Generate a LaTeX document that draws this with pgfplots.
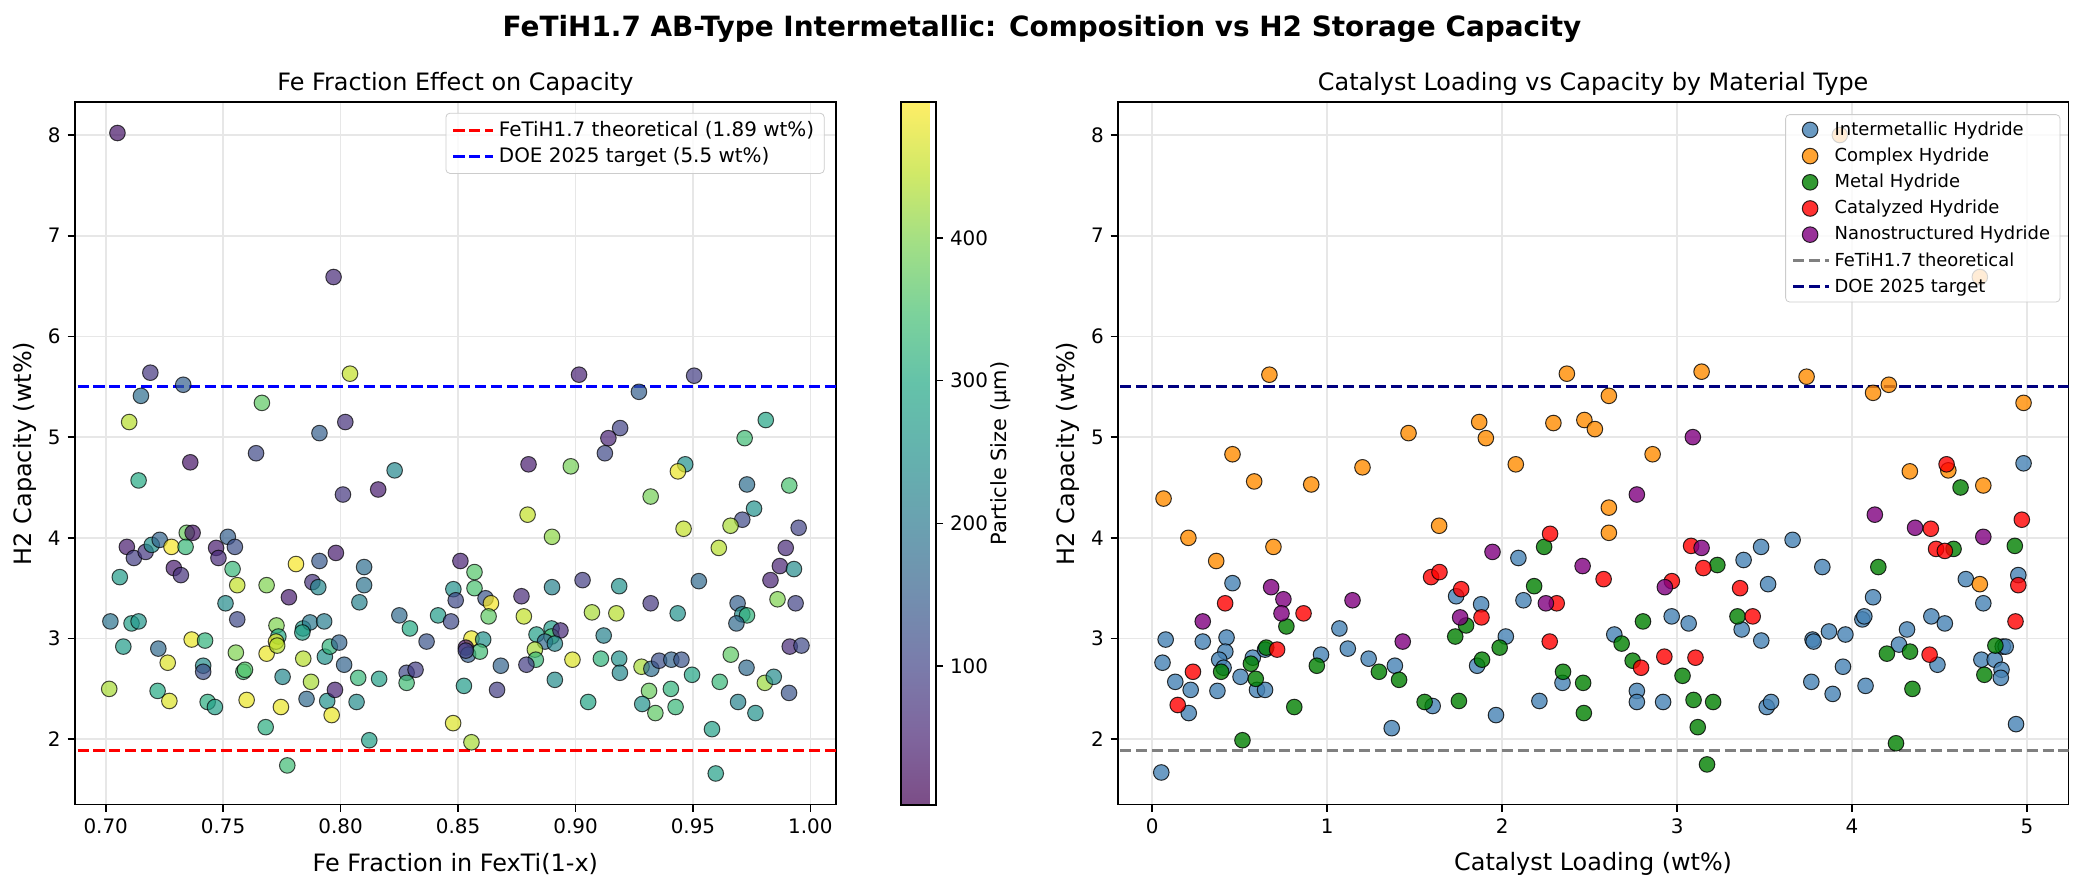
\documentclass[border=0pt]{standalone}
\usepackage{pgfplots}
\pgfplotsset{compat=1.18}
\usepackage{pgfplotstable}
\usepackage{fontspec}
\setmainfont{DejaVu Sans}

\definecolor{steelblue}{RGB}{70,130,180}
\definecolor{darkorange}{RGB}{255,140,0}
\definecolor{mplgreen}{RGB}{0,128,0}
\definecolor{mplpurple}{RGB}{128,0,128}
\definecolor{mplnavy}{RGB}{0,0,128}
\definecolor{gridgray}{RGB}{231,231,231}
\definecolor{legedge}{RGB}{204,204,204}

% viridis as it looks with alpha 0.7 on white (for the colorbar)
\pgfplotsset{
  colormap={viridisfaded}{rgb255=(124,77,135) rgb255=(127,102,158) rgb255=(122,124,171)
    rgb255=(114,143,175) rgb255=(106,161,176) rgb255=(100,178,174) rgb255=(100,194,169)
    rgb255=(124,210,155) rgb255=(162,223,133) rgb255=(209,233,103) rgb255=(254,238,102)},
  colormap={viridisP}{rgb255=(68,1,84) rgb255=(72,36,117) rgb255=(65,68,135)
    rgb255=(53,95,141) rgb255=(42,120,142) rgb255=(33,145,140) rgb255=(34,168,132)
    rgb255=(68,191,112) rgb255=(122,209,81) rgb255=(189,223,38) rgb255=(253,231,37)},
}

\pgfplotsset{
  panel/.style={
    scale only axis, height=351.2bp,
    ymin=1.35, ymax=8.325, ytick={2,3,4,5,6,7,8},
    grid=major, major grid style={gridgray, line width=0.8bp},
    tick align=outside, tick pos=left, major tick length=3.5bp,
    every tick/.append style={black, line width=0.8bp},
    axis line style={line width=0.8bp},
    tick label style={font=\fontsize{10}{12}\selectfont},
    /pgf/number format/assume math mode=true,
    every axis title/.style={at={(0.5,1)}, anchor=base, yshift=5.85bp, font=\fontsize{12}{14}\selectfont},
    label style={font=\fontsize{12}{14}\selectfont},
    xlabel style={at={(axis description cs:0.5,-0.0844)}, anchor=center},
    legend cell align=left,
  },
  dots/.style={only marks, mark=*, mark size=3.9bp,
    mark options={draw=black, line width=0.5bp, fill=#1, fill opacity=0.8, draw opacity=0.8}},
  dline/.style={#1, line width=1.5bp, dash pattern=on 5.55bp off 2.4bp},
  longline/.style={legend image code/.code={\draw[##1] (0bp,0bp) -- (20bp,0bp);}},
  shortline/.style={legend image code/.code={\draw[##1] (0bp,0bp) -- (18bp,0bp);}},
}

% Fe fraction, capacity, particle size
\pgfplotstableread{
x y s
0.705 8.02 30
0.797 6.59 60
0.719 5.64 80
0.733 5.52 150
0.715 5.41 180
0.710 5.15 440
0.7665 5.34 370
0.802 5.15 70
0.791 5.04 150
0.764 4.84 110
0.736 4.75 30
0.714 4.57 300
0.801 4.43 80
0.804 5.63 450
0.7345 4.05 380
0.737 4.05 30
0.709 3.91 40
0.712 3.80 90
0.717 3.86 80
0.7196 3.93 250
0.723 3.98 160
0.728 3.91 490
0.734 3.91 330
0.729 3.70 40
0.732 3.63 70
0.706 3.61 270
0.747 3.90 40
0.748 3.80 60
0.752 4.01 150
0.755 3.91 120
0.754 3.69 330
0.756 3.53 450
0.7685 3.53 400
0.781 3.74 490
0.791 3.77 140
0.798 3.85 40
0.788 3.56 70
0.7905 3.51 230
0.778 3.41 40
0.751 3.35 240
0.756 3.19 110
0.702 3.17 190
0.711 3.15 280
0.714 3.17 260
0.7727 3.13 400
0.784 3.10 270
0.787 3.16 200
0.793 3.17 210
0.808 3.36 220
0.9015 5.62 50
0.927 5.45 150
0.9505 5.61 90
0.919 5.09 100
0.914 4.99 50
0.9125 4.84 110
0.880 4.73 40
0.898 4.71 390
0.8796 4.23 450
0.890 4.01 410
0.823 4.67 230
0.816 4.48 40
0.851 3.77 50
0.857 3.66 360
0.857 3.50 350
0.848 3.49 250
0.849 3.38 110
0.8617 3.40 130
0.864 3.35 490
0.863 3.22 370
0.877 3.42 60
0.878 3.22 450
0.890 3.51 220
0.903 3.58 90
0.9186 3.52 250
0.907 3.26 430
0.9174 3.25 440
0.810 3.71 180
0.810 3.53 190
0.825 3.23 170
0.8415 3.23 270
0.847 3.17 110
0.8295 3.10 300
0.981 5.17 290
0.972 4.99 340
0.9467 4.73 250
0.9436 4.66 480
0.932 4.41 390
0.973 4.53 180
0.976 4.29 250
0.971 4.18 110
0.966 4.12 430
0.946 4.09 450
0.991 4.52 350
0.961 3.90 440
0.9895 3.90 60
0.987 3.72 50
0.993 3.69 240
0.983 3.58 50
0.9525 3.57 170
0.932 3.35 80
0.9435 3.25 250
0.969 3.35 150
0.986 3.39 400
0.9937 3.35 100
0.971 3.24 240
0.973 3.23 320
0.995 4.10 100
0.7075 2.92 270
0.7224 2.90 170
0.7015 2.50 430
0.7264 2.76 470
0.7221 2.48 300
0.7271 2.38 470
0.7366 2.99 480
0.7423 2.98 320
0.7415 2.73 240
0.7415 2.67 120
0.7434 2.37 310
0.7465 2.32 280
0.7554 2.86 400
0.7586 2.67 340
0.7593 2.69 360
0.760 2.39 480
0.7681 2.12 310
0.7773 1.74 340
0.7685 2.85 480
0.7735 3.02 300
0.7725 2.97 480
0.773 2.93 440
0.7753 2.62 230
0.7746 2.32 480
0.7841 2.80 440
0.7837 3.06 280
0.7874 2.57 430
0.7855 2.40 170
0.7933 2.82 250
0.7954 2.92 320
0.7994 2.96 160
0.7943 2.38 250
0.7976 2.49 50
0.7962 2.24 480
0.8015 2.74 160
0.8075 2.61 330
0.8068 2.37 240
0.8122 1.99 280
0.8164 2.60 280
0.8366 2.97 130
0.8281 2.66 110
0.8319 2.69 90
0.8281 2.56 340
0.8479 2.16 470
0.8557 3.00 480
0.8533 2.91 30
0.8543 2.84 150
0.8607 2.99 250
0.8593 2.87 340
0.8533 2.88 100
0.8682 2.73 160
0.8525 2.53 270
0.8666 2.49 90
0.8557 1.97 430
0.8834 3.04 280
0.8898 3.10 270
0.8898 3.02 350
0.8936 3.08 60
0.887 2.97 170
0.8912 2.95 230
0.8827 2.89 430
0.8831 2.79 330
0.8791 2.74 90
0.8912 2.59 240
0.8987 2.79 470
0.912 3.03 220
0.9108 2.80 320
0.9186 2.80 250
0.9189 2.66 230
0.9054 2.37 290
0.9281 2.72 430
0.9323 2.70 180
0.9356 2.78 120
0.9408 2.79 160
0.9451 2.79 130
0.9496 2.64 290
0.9313 2.48 380
0.9406 2.50 320
0.9284 2.35 250
0.934 2.26 370
0.9426 2.32 330
0.9661 2.84 370
0.9614 2.57 330
0.9728 2.71 170
0.9806 2.56 420
0.9844 2.62 240
0.9909 2.46 130
0.9692 2.37 220
0.9766 2.26 250
0.9581 2.10 280
0.9597 1.66 280
0.9912 2.92 60
0.9962 2.93 110
0.9685 3.15 170
}\fedata

% catalyst loading, capacity
\pgfplotstableread{
x y
0.077 2.99
0.059 2.76
0.132 2.57
0.22 2.49
0.209 2.26
0.289 2.97
0.425 3.01
0.418 2.87
0.383 2.79
0.408 2.71
0.373 2.48
0.505 2.62
0.575 2.81
0.645 2.89
0.599 2.49
0.645 2.49
0.052 1.67
1.07 3.10
1.118 2.90
0.965 2.84
1.237 2.80
1.387 2.73
1.369 2.11
1.603 2.33
1.857 2.73
2.021 3.02
1.965 2.24
2.213 2.38
2.345 2.56
2.641 3.04
2.77 2.48
2.77 2.37
2.92 2.37
2.969 3.22
3.066 3.15
3.369 3.09
3.481 2.98
3.512 2.32
3.537 2.37
3.774 2.99
3.78 2.97
3.868 3.07
3.962 3.04
3.948 2.72
3.767 2.57
3.889 2.45
4.059 3.19
4.07 3.22
4.077 2.53
4.314 3.09
4.268 2.94
4.453 3.22
4.53 3.15
4.488 2.74
4.739 2.79
4.815 2.79
4.861 2.92
4.878 2.92
4.854 2.69
4.85 2.61
4.937 2.15
0.459 3.55
1.737 3.42
1.88 3.34
2.093 3.80
2.122 3.38
3.38 3.78
3.48 3.91
3.52 3.54
3.66 3.98
3.83 3.71
4.12 3.41
4.65 3.59
4.95 3.63
4.98 4.74
4.75 3.35
}\intermetallic

\pgfplotstableread{
x y
0.065 4.39
0.207 4.00
0.366 3.77
0.459 4.83
0.583 4.56
0.67 5.62
0.693 3.91
0.909 4.53
1.202 4.70
1.465 5.04
1.64 4.12
1.869 5.15
1.907 4.99
2.078 4.73
2.293 5.14
2.37 5.63
2.47 5.17
2.53 5.08
2.61 5.41
2.61 4.30
2.61 4.05
2.86 4.83
3.14 5.65
3.74 5.60
3.93 8.00
4.12 5.44
4.21 5.52
4.33 4.66
4.55 4.67
4.73 6.59
4.75 4.52
4.73 3.54
4.98 5.34
}\complexh

\pgfplotstableread{
x y
0.767 3.12
0.652 2.91
0.564 2.75
0.394 2.67
0.592 2.60
0.516 1.99
0.812 2.32
0.941 2.73
1.296 2.67
1.411 2.59
1.557 2.37
1.753 2.38
1.732 3.02
1.794 3.13
1.885 2.79
1.986 2.91
2.348 2.67
2.463 2.56
2.467 2.26
2.683 2.95
2.746 2.78
2.805 3.17
3.031 2.63
3.094 2.39
3.206 2.37
3.118 2.12
3.171 1.75
3.345 3.22
4.199 2.85
4.331 2.87
4.345 2.50
4.251 1.96
4.819 2.93
4.756 2.64
2.183 3.52
2.24 3.91
3.23 3.73
4.15 3.71
4.62 4.50
4.93 3.92
4.58 3.89
}\metalh

\pgfplotstableread{
x y
0.233 2.67
0.146 2.34
0.714 2.89
2.272 2.97
2.794 2.71
2.927 2.82
3.105 2.81
4.443 2.84
4.934 3.17
0.417 3.35
0.865 3.25
1.594 3.61
1.642 3.66
1.766 3.49
1.882 3.21
2.274 4.04
2.312 3.35
2.58 3.59
2.97 3.57
3.08 3.92
3.15 3.70
3.36 3.50
3.432 3.22
4.45 4.09
4.48 3.89
4.54 4.73
4.53 3.87
4.95 3.53
4.97 4.18
}\catalyzed

\pgfplotstableread{
x y
0.289 3.17
0.68 3.51
0.75 3.39
0.739 3.25
1.145 3.38
1.432 2.97
1.760 3.21
1.945 3.86
2.25 3.35
2.46 3.72
2.77 4.43
2.93 3.51
3.09 5.00
3.14 3.90
4.13 4.23
4.36 4.10
4.75 4.01
}\nano

\begin{document}
\begin{tikzpicture}
\path[use as bounding box] (0,0) rectangle (1042bp,443.5bp);
\node[anchor=base, font=\fontsize{14}{17}\selectfont\bfseries] at (521bp,425.2bp)
  {FeTiH1.7 AB-Type Intermetallic: Composition vs H2 Storage Capacity};

\begin{axis}[panel,
  at={(37.35bp,41.15bp)}, anchor=south west, width=380.65bp,
  xmin=0.6868, xmax=1.0109,
  xtick={0.70,0.75,0.80,0.85,0.90,0.95,1.00},
  xticklabel style={/pgf/number format/.cd, fixed, fixed zerofill, precision=2},
  title={Fe Fraction Effect on Capacity},
  xlabel={Fe Fraction in FexTi(1-x)},
  ylabel={H2 Capacity (wt\%)},
  ylabel style={at={(axis description cs:-0.0657,0.5)}, anchor=center},
  colormap name=viridisP,
  point meta min=3, point meta max=495,
  colorbar,
  colorbar style={
    at={(parent axis.north east)}, anchor=north west, xshift=24bp,
    width=17.5bp, height=351.2bp, scale only axis,
    colormap name=viridisfaded,
    ytick={100,200,300,400}, ytick pos=right, yticklabel pos=right,
    tick align=outside, major tick length=3.5bp,
    every tick/.append style={black, line width=0.8bp},
    axis line style={line width=0.8bp},
    yticklabel style={font=\fontsize{10}{12}\selectfont},
    /pgf/number format/assume math mode=true,
    ylabel={Particle Size (µm)},
    ylabel style={font=\fontsize{10.5}{12}\selectfont, at={(axis description cs:2.85,0.5)}, anchor=center},
  },
  legend style={at={(0.985,0.985)}, anchor=north east, draw=legedge, rounded corners=2bp,
    fill=white, fill opacity=0.8, text opacity=1, font=\fontsize{10}{12}\selectfont,
    inner xsep=3bp, inner ysep=2bp, row sep=0bp},
  longline,
]
\addplot[scatter, only marks, mark=*, mark size=3.9bp, scatter src=explicit,
  scatter/use mapped color={draw=black, fill=mapped color},
  mark options={line width=0.5bp, fill opacity=0.7, draw opacity=0.7}, forget plot]
  table[x=x, y=y, meta=s] {\fedata};
\addplot[dline=red] coordinates {(0.6,1.89) (1.1,1.89)};
\addlegendentry{FeTiH1.7 theoretical (1.89 wt\%)}
\addplot[dline=blue] coordinates {(0.6,5.5) (1.1,5.5)};
\addlegendentry{DOE 2025 target (5.5 wt\%)}
\end{axis}

\begin{axis}[panel,
  at={(558.85bp,41.15bp)}, anchor=south west, width=475.4bp,
  xmin=-0.197, xmax=5.237,
  xtick={0,1,2,3,4,5},
  title={Catalyst Loading vs Capacity by Material Type},
  xlabel={Catalyst Loading (wt\%)},
  ylabel={H2 Capacity (wt\%)},
  ylabel style={at={(axis description cs:-0.0526,0.5)}, anchor=center},
  legend style={at={(0.9915,0.983)}, anchor=north east, draw=legedge, rounded corners=2bp,
    fill=white, fill opacity=0.8, text opacity=1, font=\fontsize{9}{11}\selectfont,
    inner xsep=3bp, inner ysep=1.5bp, row sep=0.8bp},
]
\addplot[dots=steelblue] table {\intermetallic};
\addlegendentry{Intermetallic Hydride}
\addplot[dots=darkorange] table {\complexh};
\addlegendentry{Complex Hydride}
\addplot[dots=mplgreen] table {\metalh};
\addlegendentry{Metal Hydride}
\addplot[dots=red] table {\catalyzed};
\addlegendentry{Catalyzed Hydride}
\addplot[dots=mplpurple] table {\nano};
\addlegendentry{Nanostructured Hydride}
\addplot[dline=gray, shortline] coordinates {(-1,1.89) (6,1.89)};
\addlegendentry{FeTiH1.7 theoretical}
\addplot[dline=mplnavy, shortline] coordinates {(-1,5.5) (6,5.5)};
\addlegendentry{DOE 2025 target}
\end{axis}
\end{tikzpicture}
\end{document}
